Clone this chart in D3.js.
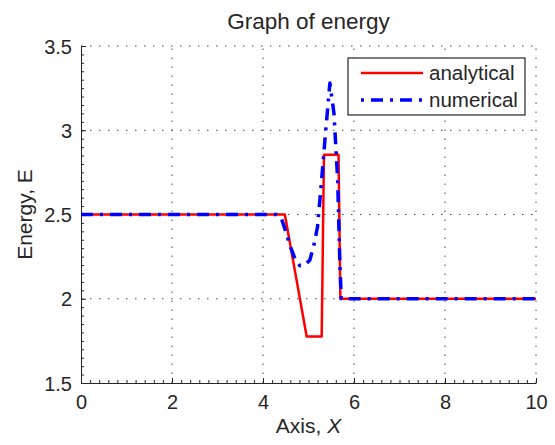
<!DOCTYPE html>
<html><head><meta charset="utf-8">
<script src="https://cdn.jsdelivr.net/npm/d3@7"></script>
<style>
body{margin:0;background:#fff;}
text{font-family:"Liberation Sans",Arial,sans-serif;fill:#262626;}
</style></head>
<body><svg id="c" width="555" height="445"></svg>
<script>
const title = "Graph of energy";
const xLabel = "Axis, ";
const xLabelItalic = "X";
const yLabel = "Energy, E";
const seriesNames = ["analytical", "numerical"];
const xTicks = [0, 2, 4, 6, 8, 10];
const yTicks = [1.5, 2, 2.5, 3, 3.5];
const yTickLabels = ["1.5", "2", "2.5", "3", "3.5"];

const analyticalX = [0, 4.48, 4.96, 5.29, 5.34, 5.66, 5.7, 10];
const analyticalY = [2.5, 2.5, 1.776, 1.776, 2.855, 2.855, 2.0, 2.0];

const numericalX = [0, 4.3, 4.4, 4.5, 4.6, 4.7, 4.81, 4.92, 5.03, 5.12, 5.2, 5.29, 5.36, 5.47, 5.56, 5.64, 5.69, 5.72, 10];
const numericalY = [2.5, 2.5, 2.48, 2.4, 2.31, 2.24, 2.196, 2.2, 2.23, 2.32, 2.43, 2.71, 2.94, 3.28, 3.1, 2.71, 2.21, 2.0, 2.0];

const svg = d3.select("#c");
const m = {l: 81, r: 536, t: 46, b: 383};
const x = d3.scaleLinear().domain([0, 10]).range([m.l, m.r]);
const y = d3.scaleLinear().domain([1.5, 3.5]).range([m.b, m.t]);
const axisColor = "#262626";
const fs = 20;

// grid
const grid = svg.append("g");
xTicks.filter(d => d !== 0).forEach(d => {
  grid.append("line").attr("x1", x(d)).attr("x2", x(d)).attr("y1", y(1.5)).attr("y2", y(3.5))
    .attr("stroke", "#444").attr("stroke-width", 1).attr("stroke-dasharray", "1.5,7.5");
});
yTicks.filter(d => d !== 1.5).forEach(d => {
  grid.append("line").attr("x1", x(0)).attr("x2", x(10)).attr("y1", y(d)).attr("y2", y(d))
    .attr("stroke", "#444").attr("stroke-width", 1).attr("stroke-dasharray", "1.5,7.5");
});

// axes
const xAxis = d3.axisBottom(x).tickValues(xTicks).tickSizeInner(-5).tickSizeOuter(0).tickPadding(12).tickFormat(d3.format("d"));
const gx = svg.append("g").attr("transform", `translate(0,${m.b})`).call(xAxis);
const xMinor = d3.axisBottom(x).tickValues(d3.range(0, 10.001, 0.2)).tickSize(-3).tickSizeOuter(0).tickFormat("");
const gxm = svg.append("g").attr("transform", `translate(0,${m.b})`).call(xMinor);
gxm.select(".domain").remove();

const yAxis = d3.axisLeft(y).tickValues(yTicks).tickSizeInner(-5).tickSizeOuter(0).tickPadding(9)
  .tickFormat((d, i) => yTickLabels[i]);
const gy = svg.append("g").attr("transform", `translate(${m.l},0)`).call(yAxis);
const yMinor = d3.axisLeft(y).tickValues(d3.range(1.5, 3.5001, 0.05)).tickSize(-3).tickSizeOuter(0).tickFormat("");
const gym = svg.append("g").attr("transform", `translate(${m.l},0)`).call(yMinor);
gym.select(".domain").remove();

[gx, gy, gxm, gym].forEach(g => {
  g.selectAll("path,line").attr("stroke", axisColor).attr("stroke-width", 1);
  g.selectAll("text").attr("font-size", fs).attr("font-family", "Liberation Sans, Arial, sans-serif").attr("fill", axisColor);
});
gx.selectAll("text").attr("dy", "0.71em");
gy.selectAll("text").attr("dy", "0.36em");

// lines
const line = d3.line().x(d => x(d[0])).y(d => y(d[1]));
const aData = analyticalX.map((v, i) => [v, analyticalY[i]]);
const nData = numericalX.map((v, i) => [v, numericalY[i]]);
svg.append("path").datum(aData).attr("d", line).attr("fill", "none")
  .attr("stroke", "#ff0000").attr("stroke-width", 2.5).attr("stroke-linejoin", "round");
svg.append("path").datum(nData).attr("d", line).attr("fill", "none")
  .attr("stroke", "#0000ff").attr("stroke-width", 3.5).attr("stroke-dasharray", "12,7,3,7").attr("stroke-linejoin", "round");

// title & labels
svg.append("text").attr("x", (m.l + m.r) / 2).attr("y", 29).attr("text-anchor", "middle")
  .attr("font-size", 22.5).text(title);
const xl = svg.append("text").attr("x", (m.l + m.r) / 2).attr("y", 433).attr("text-anchor", "middle").attr("font-size", 21);
xl.append("tspan").text(xLabel);
xl.append("tspan").attr("font-style", "italic").text(xLabelItalic);
svg.append("text").attr("transform", `translate(32,${(m.t + m.b) / 2}) rotate(-90)`).attr("text-anchor", "middle")
  .attr("font-size", 21).text(yLabel);

// legend
const lg = svg.append("g");
lg.append("rect").attr("x", 348).attr("y", 58).attr("width", 177).attr("height", 57)
  .attr("fill", "#fff").attr("stroke", axisColor).attr("stroke-width", 1.2);
lg.append("line").attr("x1", 361).attr("x2", 423).attr("y1", 73).attr("y2", 73)
  .attr("stroke", "#ff0000").attr("stroke-width", 2.5);
lg.append("line").attr("x1", 361).attr("x2", 423).attr("y1", 100).attr("y2", 100)
  .attr("stroke", "#0000ff").attr("stroke-width", 3.5).attr("stroke-dasharray", "3,7,12,7");
lg.append("text").attr("x", 429).attr("y", 73).attr("dy", "0.36em").attr("font-size", 20.5).text(seriesNames[0]);
lg.append("text").attr("x", 429).attr("y", 100).attr("dy", "0.36em").attr("font-size", 20.5).text(seriesNames[1]);
</script></body></html>
